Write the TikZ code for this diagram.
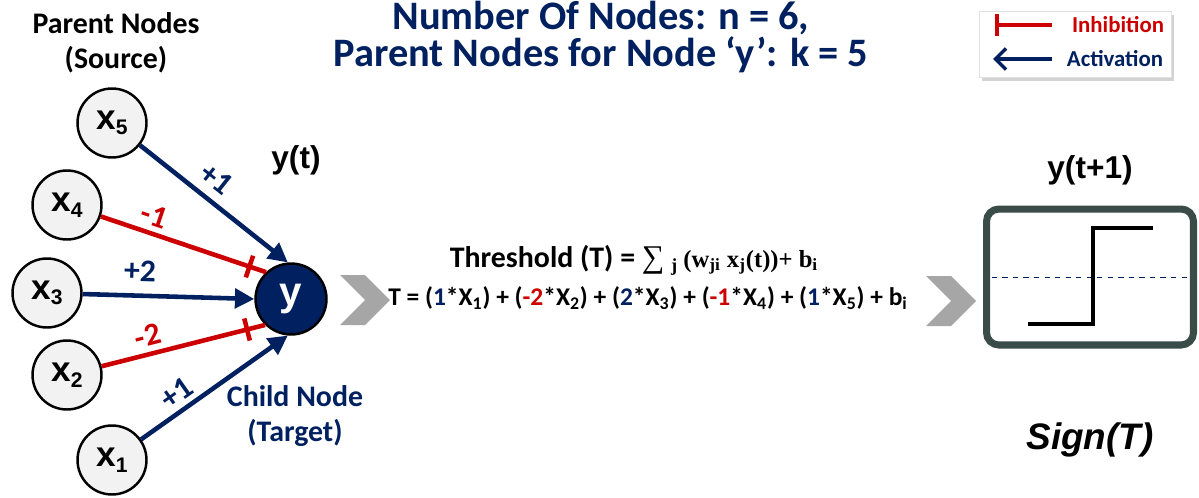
\documentclass[tikz,border=0pt]{standalone}
\usepackage{fontspec}
\setmainfont{Carlito}
\newfontfamily\arialfont{Liberation Sans}
\newfontfamily\timesfont{Liberation Serif}
\usetikzlibrary{shapes.geometric, shapes.symbols, arrows.meta, positioning, shadows}

\definecolor{navy}{RGB}{0,32,96}
\definecolor{inhred}{RGB}{204,0,0}
\definecolor{chevgray}{RGB}{166,166,166}
\definecolor{slate}{RGB}{58,76,72}
\definecolor{nodefill}{RGB}{242,242,242}

\newcommand{\lowidx}[1]{\raisebox{-0.3ex}{\fontsize{12}{12}\selectfont #1}}

\begin{document}
\begin{tikzpicture}[
    x=0.02cm, y=-0.02cm,
    parent/.style={circle, draw=black, line width=1.4pt, fill=nodefill, minimum size=1.38cm, inner sep=0pt, font=\arialfont\bfseries\fontsize{20}{20}\selectfont},
    child/.style={circle, draw=black, line width=1.4pt, fill=navy, text=white, minimum size=1.42cm, inner sep=0pt, font=\arialfont\bfseries\fontsize{23}{23}\selectfont},
    act/.style={line width=2.6pt, draw=navy, -{Triangle[length=11pt,width=11pt]}},
    inh/.style={line width=2.6pt, draw=inhred},
    teebar/.style={rectangle, fill=inhred, minimum width=2.6pt, minimum height=13pt, inner sep=0pt, sloped},
    wlabel/.style={font=\bfseries\fontsize{18}{18}\selectfont, sloped, above},
    chevron/.style={signal, signal to=east, signal from=west, fill=chevgray, draw=none, minimum width=0.96cm, minimum height=1.0cm, inner sep=0pt},
    heading/.style={font=\bfseries\fontsize{17}{20}\selectfont, align=center},
    title/.style={font=\bfseries\fontsize{23}{18.5}\selectfont, align=center, text=navy},
    signal label/.style={font=\arialfont\bfseries\fontsize{18}{18}\selectfont},
    formula/.style={font=\bfseries\fontsize{14.5}{14.5}\selectfont},
    legendbox/.style={rectangle, draw=black!12, fill=white, minimum width=3.84cm, minimum height=1.32cm, drop shadow={opacity=0.35, shadow xshift=1.5pt, shadow yshift=-2.5pt}},
    legtext/.style={font=\bfseries\fontsize{13}{13}\selectfont},
    signbox/.style={rectangle, rounded corners=7pt, draw=slate, line width=4pt, fill=white, minimum width=4.14cm, minimum height=2.72cm},
    stepline/.style={line width=2.8pt, black},
    threshold/.style={navy, dashed, line width=0.5pt}
  ]
    \useasboundingbox (0,0) rectangle (1199,497);

    % --- Headings ---
    \node[heading] (parents) at (116,43) {Parent Nodes\\(Source)};
    \node[title] (title) at (601,37) {Number Of Nodes: n = 6,\\Parent Nodes for Node ‘y’: k = 5};

    % --- Legend ---
    \node[legendbox] (legend) at (1075,44) {};
    \coordinate (inhA) at (995,25);
    \coordinate (inhB) at (1052,25);
    \coordinate (actA) at (1052,59);
    \coordinate (actB) at (993,59);
    \draw[inhred, line width=2pt, {Bar[width=13pt]}-] (inhA) -- (inhB);
    \draw[navy, line width=2pt, -{Straight Barb[length=6pt, width=12pt]}] (actA) -- (actB);
    \node[legtext, text=inhred] (inhtext) at (1118,25) {Inhibition};
    \node[legtext, text=navy] (acttext) at (1115,59) {Activation};

    % --- Parent nodes and child ---
    \node[parent] (x5) at (112,123) {x\lowidx{5}};
    \node[parent] (x4) at (67,205) {x\lowidx{4}};
    \node[parent] (x3) at (47,293) {x\lowidx{3}};
    \node[parent] (x2) at (67,375) {x\lowidx{2}};
    \node[parent] (x1) at (112,460) {x\lowidx{1}};
    \node[child] (y) at (291,299) {y};

    \node[signal label] (yt) at (296,160) {y(t)};
    \node[heading, text=navy] (childlabel) at (295,416) {Child Node\\(Target)};

    % --- Edges ---
    \draw[act] (x5) -- (y.95) node[wlabel, pos=0.43, inner sep=5pt, text=navy] {+1};
    \draw[inh] (x4) -- (y.133) node[wlabel, pos=0.29, inner sep=3pt, text=inhred] {-1} node[teebar, pos=0.9] {};
    \draw[act] (x3) -- (y.west) node[wlabel, pos=0.33, inner sep=7pt, text=navy] {+2};
    \draw[inh] (x2) -- (y.225) node[wlabel, pos=0.31, inner sep=3pt, text=inhred] {-2} node[teebar, pos=0.89] {};
    \draw[act] (x1) -- (y.265) node[wlabel, pos=0.31, inner sep=3pt, text=navy] {+1};

    % --- Threshold ---
    \node[chevron] (chev1) at (365,300) {};
    \node[formula, font=\bfseries\fontsize{17}{17}\selectfont] (thr1) at (634,260) {Threshold (T) = {\timesfont\mdseries\fontsize{18}{18}\selectfont ∑}
      {\timesfont\fontsize{14}{14}\selectfont\raisebox{-0.35ex}{\fontsize{10.5}{10.5}\selectfont j} (w\textsubscript{ji} x\textsubscript{j}(t))+ b\textsubscript{i}}};
    \node[formula] (thr2) at (648,298) {T = (\textcolor{navy}{1}*X\textsubscript{1}) + (\textcolor{inhred}{-2}*X\textsubscript{2}) + (\textcolor{navy}{2}*X\textsubscript{3}) + (\textcolor{inhred}{-1}*X\textsubscript{4}) + (\textcolor{navy}{1}*X\textsubscript{5}) + b\textsubscript{i}};
    \node[chevron] (chev2) at (951,301) {};

    % --- Sign function ---
    \node[signbox] (signbox) at (1090,277) {};
    \draw[threshold, shorten <=5pt, shorten >=5pt] (signbox.west) -- (signbox.east);
    \draw[stepline] (1028,324) -- (1093,324) -- (1093,228) -- (1153,228);
    \node[signal label] (ynext) at (1090,170) {y(t+1)};
    \node[signal label, font=\arialfont\bfseries\itshape\fontsize{21}{21}\selectfont] (sign) at (1090,440) {Sign(T)};

  \end{tikzpicture}
\end{document}
